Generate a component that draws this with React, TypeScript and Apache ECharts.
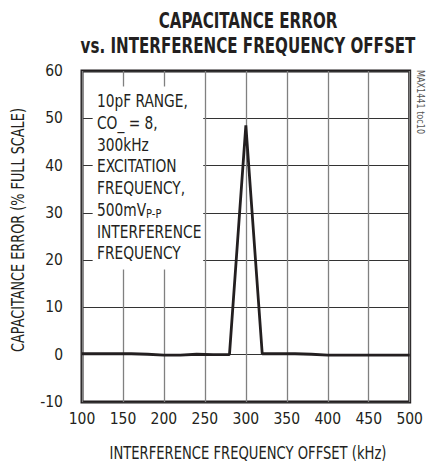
import React, { useEffect, useRef } from "react";
import * as echarts from "echarts";

const xValues = [100, 120, 140, 160, 180, 200, 220, 240, 260, 280, 300, 320, 340, 360, 380, 400, 420, 440, 460, 480, 500];
const yValues = [0.2, 0.2, 0.2, 0.2, 0.1, -0.1, -0.1, 0.1, 0.0, 0.0, 48.5, 0.2, 0.2, 0.2, 0.1, -0.1, -0.1, -0.1, -0.1, -0.1, -0.1];
const xTicks = { min: 100, max: 500, interval: 50 };
const yTicks = { min: -10, max: 60, interval: 10 };
const titleLines = ["CAPACITANCE ERROR", "vs. INTERFERENCE FREQUENCY OFFSET"];
const xName = "INTERFERENCE FREQUENCY OFFSET (kHz)";
const yName = "CAPACITANCE ERROR (% FULL SCALE)";
const noteLines = ["10pF RANGE,", "CO_ = 8,", "300kHz", "EXCITATION", "FREQUENCY,", "500mV{sub|P-P}", "INTERFERENCE", "FREQUENCY"];
const noteBox = { x0: 113, x1: 248, y0: 18, y1: 56.7 };
const sideLabel = "MAX1441 toc10";

const FONT = "'Liberation Sans Narrow', 'DejaVu Sans Condensed', 'Liberation Sans', sans-serif";
const INK = "#231f20";

export default function App() {
  const ref = useRef<HTMLDivElement>(null);
  useEffect(() => {
    if (!ref.current) return;
    const chart = echarts.init(ref.current, null, { renderer: "svg" });
    const data = xValues.map((x, i) => [x, yValues[i]]);
    chart.setOption({
      animation: false,
      backgroundColor: "#fff",
      textStyle: { fontFamily: FONT },
      grid: {
        left: 82, right: 11, top: 71, bottom: 64,
        show: true, borderColor: INK, borderWidth: 3, backgroundColor: "transparent",
      },
      xAxis: {
        type: "value",
        min: xTicks.min, max: xTicks.max, interval: xTicks.interval,
        axisLine: { show: false },
        axisTick: { show: false },
        axisLabel: { fontFamily: FONT, fontSize: 15.5, color: INK, margin: 9 },
        splitLine: { show: true, lineStyle: { color: "#808080", width: 1.3 } },
      },
      yAxis: {
        type: "value",
        min: yTicks.min, max: yTicks.max, interval: yTicks.interval,
        axisLine: { show: false },
        axisTick: { show: false },
        axisLabel: { fontFamily: FONT, fontSize: 15.5, color: INK, margin: 19 },
        splitLine: { show: true, lineStyle: { color: "#333", width: 1.2 } },
      },
      graphic: [
        {
          type: "text",
          x: 248, y: 20, scaleX: 0.8,
          style: {
            text: titleLines[0], fontFamily: FONT, fontWeight: "bold", fontSize: 21, fill: INK,
            align: "center", verticalAlign: "middle",
          },
        },
        {
          type: "text",
          x: 248, y: 45, scaleX: 0.8,
          style: {
            text: titleLines[1], fontFamily: FONT, fontWeight: "bold", fontSize: 21, fill: INK,
            align: "center", verticalAlign: "middle",
          },
        },
        {
          type: "text",
          x: 248, y: 453, scaleX: 0.86,
          style: {
            text: xName, fontFamily: FONT, fontSize: 17, fill: INK,
            align: "center", verticalAlign: "middle",
          },
        },
        {
          type: "text",
          x: 18, y: 230, rotation: Math.PI / 2, scaleX: 0.84,
          style: {
            text: yName, fontFamily: FONT, fontSize: 17, fill: INK,
            align: "center", verticalAlign: "middle",
          },
        },
        {
          type: "text",
          x: 421, y: 70, rotation: -Math.PI / 2, scaleX: 0.9,
          style: {
            text: sideLabel, fontFamily: FONT, fontSize: 10, fill: "#555",
            align: "left", verticalAlign: "middle",
          },
        },
        {
          type: "text",
          x: 97, y: 90, z: 10, scaleX: 0.85,
          style: {
            text: noteLines.join("\n"),
            fontFamily: FONT, fontSize: 18, lineHeight: 21.7, fill: INK,
            align: "left", verticalAlign: "top",
            rich: {
              sub: { fontFamily: FONT, fontSize: 13, fill: INK, verticalAlign: "bottom", lineHeight: 21.7, padding: [6, 0, 0, 0] },
            },
          },
        },
      ],
      series: [
        {
          type: "line",
          data,
          showSymbol: false,
          lineStyle: { color: INK, width: 2.8 },
          markArea: {
            silent: true,
            itemStyle: { color: "#fff", opacity: 1 },
            data: [[{ coord: [noteBox.x0, noteBox.y1] }, { coord: [noteBox.x1, noteBox.y0] }]],
          },
        },
      ],
    });
    return () => chart.dispose();
  }, []);
  return <div ref={ref} style={{ width: 426, height: 466, position: "absolute", left: 0, top: 0 }} />;
}
